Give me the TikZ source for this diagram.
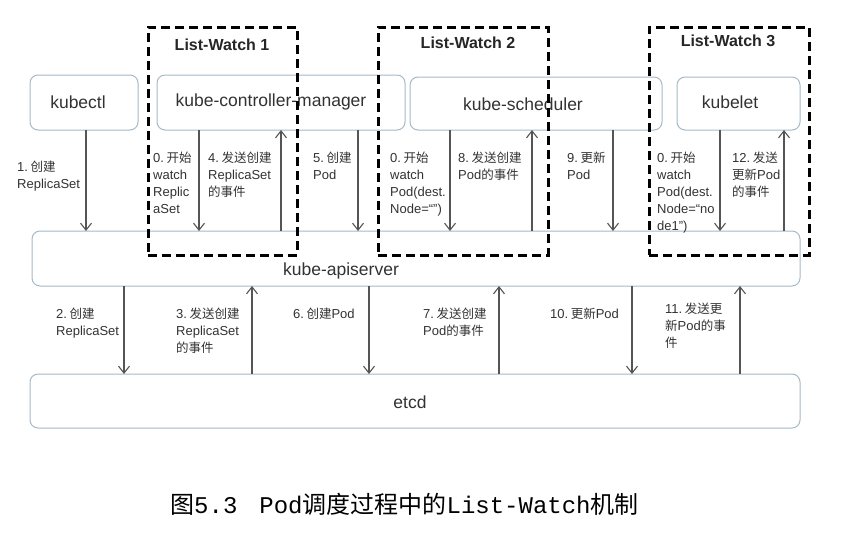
\documentclass[tikz,border=0pt]{standalone}
\usepackage{fontspec}
\setmainfont{Liberation Sans}
\newfontfamily\cjk{Noto Sans CJK SC}
\newfontfamily\capmono{Liberation Mono}
\newcommand\zh[1]{{\cjk\fontsize{12.5}{17}\selectfont #1}}
\newcommand\capzh[1]{{\cjk\fontsize{24}{28}\selectfont #1}}
\newcommand\caplat[1]{{\capmono\fontsize{24}{28}\selectfont #1}}
\usetikzlibrary{arrows.meta}
\definecolor{boxc}{RGB}{165,185,200}
\definecolor{arrc}{RGB}{85,85,85}
\definecolor{txtc}{RGB}{50,50,50}
\begin{document}
\begin{tikzpicture}[x=1pt,y=-1pt,
  box/.style={draw=boxc, line width=1pt, rounded corners=8pt, inner sep=0, outer sep=0},
  boxtext/.style={font=\fontsize{17.5}{20}\selectfont, text=txtc, inner sep=0},
  lw/.style={draw=black, line width=3pt, dash pattern=on 9pt off 5pt, inner sep=0, outer sep=0},
  lwtitle/.style={font=\bfseries\fontsize{16}{19}\selectfont, text=black!85, inner sep=0},
  lab/.style={font=\fontsize{13}{17}\selectfont, text=txtc, align=left, anchor=north west, inner sep=0},
  arr/.style={draw=arrc, line width=1.1pt, -{Straight Barb[length=7pt,width=11pt,line width=1.1pt]}}
]
\useasboundingbox (0,0) rectangle (866,536);

% boxes
\node[box, minimum width=108pt, minimum height=55pt] (kubectl) at (84,102.5) {};
\node[box, minimum width=248pt, minimum height=55pt] (cm) at (281,102.5) {};
\node[box, minimum width=252pt, minimum height=53pt] (sch) at (536,103.5) {};
\node[box, minimum width=123pt, minimum height=53pt] (kubelet) at (738.5,103.5) {};
\node[box, minimum width=768pt, minimum height=55pt] (api) at (416,258.5) {};
\node[box, minimum width=770pt, minimum height=54pt] (etcd) at (415,401) {};

\node[boxtext] (kubectlt) at (78,102) {kubectl};
\node[boxtext] (cmt) at (271,102) {kube-controller-manager};
\node[boxtext] (scht) at (523,104) {kube-scheduler};
\node[boxtext] (kubeletT) at (730,102) {kubelet};
\node[boxtext] (apit) at (341,271) {kube-apiserver};
\node[boxtext] (etcdt) at (410,402) {etcd};

% x positions of connectors
\coordinate (t1) at (86,0);
\coordinate (t2) at (199,0);
\coordinate (t3) at (281,0);
\coordinate (t4) at (358,0);
\coordinate (t5) at (450,0);
\coordinate (t6) at (532,0);
\coordinate (t7) at (613,0);
\coordinate (t8) at (720,0);
\coordinate (t9) at (784,0);
\coordinate (b1) at (124,0);
\coordinate (b2) at (252,0);
\coordinate (b3) at (369,0);
\coordinate (b4) at (499,0);
\coordinate (b5) at (632,0);
\coordinate (b6) at (740,0);

% top connectors
\draw[arr] (kubectl.south -| t1) -- (api.north -| t1);
\draw[arr] (cm.south -| t2) -- (api.north -| t2);
\draw[arr] (api.north -| t3) -- (cm.south -| t3);
\draw[arr] (cm.south -| t4) -- (api.north -| t4);
\draw[arr] (sch.south -| t5) -- (api.north -| t5);
\draw[arr] (api.north -| t6) -- (sch.south -| t6);
\draw[arr] (sch.south -| t7) -- (api.north -| t7);
\draw[arr] (kubelet.south -| t8) -- (api.north -| t8);
\draw[arr] (api.north -| t9) -- (kubelet.south -| t9);

% bottom connectors
\draw[arr] (api.south -| b1) -- (etcd.north -| b1);
\draw[arr] (etcd.north -| b2) -- (api.south -| b2);
\draw[arr] (api.south -| b3) -- (etcd.north -| b3);
\draw[arr] (etcd.north -| b4) -- (api.south -| b4);
\draw[arr] (api.south -| b5) -- (etcd.north -| b5);
\draw[arr] (etcd.north -| b6) -- (api.south -| b6);

% labels top
\node[lab] (l1) at (17,161) {1.\hspace{2.5pt}\zh{创建}\\ReplicaSet};
\node[lab] (l0a) at (153,152) {0.\hspace{2.5pt}\zh{开始}\\watch\\Replic\\aSet};
\node[lab] (l4) at (208,152) {4.\hspace{2.5pt}\zh{发送创建}\\ReplicaSet\\\zh{的事件}};
\node[lab] (l5) at (313,152) {5.\hspace{2.5pt}\zh{创建}\\Pod};
\node[lab] (l0b) at (390,152) {0.\hspace{2.5pt}\zh{开始}\\watch\\Pod(dest.\\Node=“”)};
\node[lab] (l8) at (458,152) {8.\hspace{2.5pt}\zh{发送创建}\\Pod\zh{的事件}};
\node[lab] (l9) at (567,152) {9.\hspace{2.5pt}\zh{更新}\\Pod};
\node[lab] (l0c) at (657,152) {0.\hspace{2.5pt}\zh{开始}\\watch\\Pod(dest.\\Node=“no\\de1”)};
\node[lab] (l12) at (732,152) {12.\hspace{2.5pt}\zh{发送}\\\zh{更新}Pod\\\zh{的事件}};

% labels bottom
\node[lab] (l2) at (56,308) {2.\hspace{2.5pt}\zh{创建}\\ReplicaSet};
\node[lab] (l3) at (176,308) {3.\hspace{2.5pt}\zh{发送创建}\\ReplicaSet\\\zh{的事件}};
\node[lab] (l6) at (293,308) {6.\hspace{2.5pt}\zh{创建}Pod};
\node[lab] (l7) at (423,308) {7.\hspace{2.5pt}\zh{发送创建}\\Pod\zh{的事件}};
\node[lab] (l10) at (550,308) {10.\hspace{2.5pt}\zh{更新}Pod};
\node[lab] (l11) at (665,303) {11.\hspace{2.5pt}\zh{发送更}\\\zh{新}Pod\zh{的事}\\\zh{件}};

% List-Watch frames
\node[lw, minimum width=149pt, minimum height=228pt] (lw1) at (222.5,141) {};
\node[lw, minimum width=170pt, minimum height=228pt] (lw2) at (463,141) {};
\node[lw, minimum width=160pt, minimum height=228pt] (lw3) at (729,141) {};
\node[lwtitle] (lw1t) at (222,45) {List-Watch 1};
\node[lwtitle] (lw2t) at (468,43) {List-Watch 2};
\node[lwtitle] (lw3t) at (728,41) {List-Watch 3};

% caption
\node[anchor=base west, inner sep=0] (cap) at (170,513)
  {\capzh{图}\caplat{5.3}\hspace{22pt}\caplat{Pod}\capzh{调度过程中的}\caplat{List-Watch}\capzh{机制}};
\end{tikzpicture}
\end{document}
